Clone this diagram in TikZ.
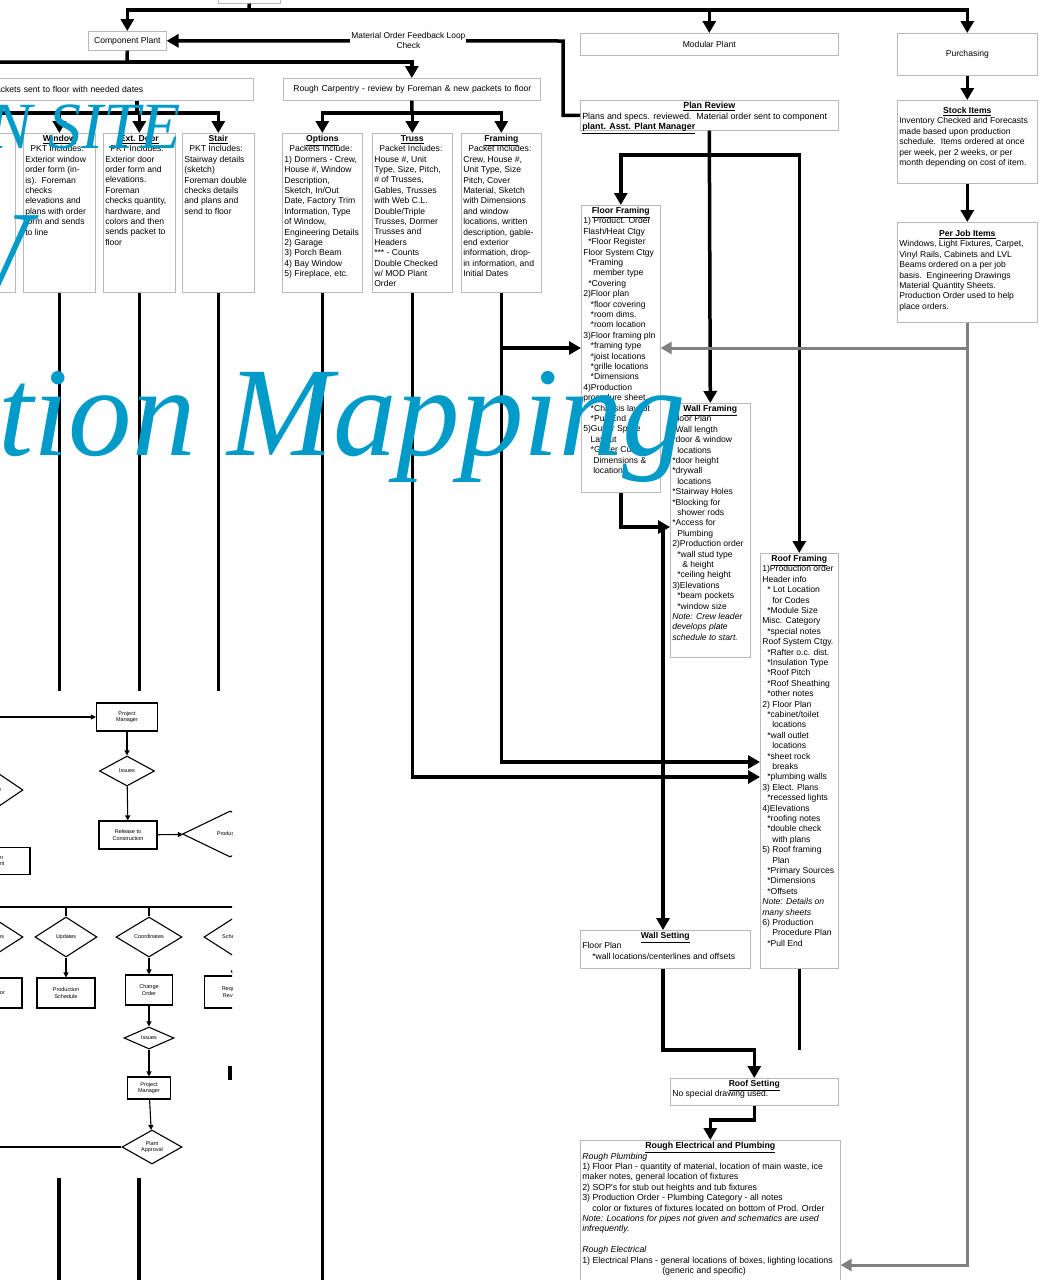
\documentclass[tikz,border=0pt]{standalone}
\usepackage{fontspec}
\newfontfamily\arial{Liberation Sans}
\newfontfamily\tms{Liberation Serif}
\usetikzlibrary{arrows.meta,shapes.geometric}
\definecolor{ttlblue}{RGB}{0,155,200}
\definecolor{lgray}{RGB}{128,128,128}
\newcommand{\hd}[1]{\makebox[\linewidth]{\underline{\textbf{#1}}}\\}
\newcommand{\ind}{\hspace*{5pt}}
\begin{document}
\begin{tikzpicture}[x=1pt,y=-1pt,
  pbox/.style={draw=gray!55,line width=.6pt,fill=white,anchor=north west,inner sep=2pt,font=\arial\fontsize{8.6}{10.4}\selectfont},
  box/.style 2 args={pbox,execute at begin node={\begin{minipage}[t][#2][t]{#1}\raggedright},execute at end node={\end{minipage}}},
  fl/.style={line width=3.5pt,-{Triangle[width=13pt,length=12pt]}},
  ln/.style={line width=3.5pt},
  gl/.style={line width=3pt,draw=lgray,-{Triangle[width=12pt,length=11pt]}},
  fb/.style={draw,line width=1.1pt,fill=white,align=center,inner sep=1pt,font=\arial\fontsize{5.5}{6.6}\selectfont},
  fd/.style={fb,diamond,inner sep=0pt},
  fa/.style={line width=1.1pt,-{Triangle[width=5pt,length=5pt]}},
  fn/.style={line width=1.1pt},
  big/.style={text=ttlblue,anchor=base west,inner sep=0pt}]
\useasboundingbox (0,0) rectangle (1046,1280);
\clip (0,0) rectangle (1046,1280);
\fill[white] (0,0) rectangle (1046,1280);

% top row
\node[pbox,minimum width=62pt,minimum height=16pt] (top) at (218,-13) {};
\node[pbox,minimum width=78pt,minimum height=19pt] (comp) at (88,31) {Component Plant};
\node[pbox,minimum width=258pt,minimum height=22pt] (modular) at (580,33) {Modular Plant};
\node[pbox,minimum width=140pt,minimum height=42pt] (purch) at (897,33) {Purchasing};
\node[pbox,minimum width=265pt,minimum height=22pt,text width=261pt,align=left] (packets) at (-12,78) {Packets sent to floor with needed dates};
\node[pbox,minimum width=257pt,minimum height=22pt,text width=253pt,align=left] (rcarp) at (283,78) {\hspace*{8pt}Rough Carpentry - review by Foreman \& new packets to floor};

% packets
\node[pbox,minimum width=35pt,minimum height=159pt] (lpkt) at (-20,133) {};
\node[box={68pt}{155pt}] (window) at (23,133) {\hd{Window}\ind PKT Includes:\\Exterior window\\order form (in-\\is).\ \ Foreman\\checks\\elevations and\\plans with order\\form and sends\\to line};
\node[box={68pt}{155pt}] (extdoor) at (103,133) {\hd{Ext. Door}\ind PKT Includes:\\Exterior door\\order form and\\elevations.\\Foreman\\checks quantity,\\hardware, and\\colors and then\\sends packet to\\floor};
\node[box={68pt}{155pt}] (stair) at (182,133) {\hd{Stair}\ind PKT Includes:\\Stairway details\\(sketch)\\Foreman double\\checks details\\and plans and\\send to floor};
\node[box={76pt}{155pt}] (options) at (282,133) {\hd{Options}\ind Packets Include:\\1) Dormers - Crew,\\House \#, Window\\Description,\\Sketch, In/Out\\Date, Factory Trim\\Information, Type\\of Window,\\Engineering Details\\2) Garage\\3) Porch Beam\\4) Bay Window\\5) Fireplace, etc.};
\node[box={76pt}{155pt}] (truss) at (372,133) {\hd{Truss}\ind Packet Includes:\\House \#, Unit\\Type, Size, Pitch,\\\# of Trusses,\\Gables, Trusses\\with Web C.L.\\Double/Triple\\Trusses, Dormer\\Trusses and\\Headers\\{}*** - Counts\\Double Checked\\w/ MOD Plant\\Order};
\node[box={76pt}{155pt}] (framing) at (461,133) {\hd{Framing}\ind Packet Includes:\\Crew, House \#,\\Unit Type, Size\\Pitch, Cover\\Material, Sketch\\with Dimensions\\and window\\locations, written\\description, gable-\\end exterior\\information, drop-\\in information, and\\Initial Dates};

% modular plant
\node[box={254pt}{26pt},font=\arial\fontsize{8.9}{10.4}\selectfont] (planrev) at (580,100) {\hd{Plan Review}Plans and specs. reviewed.\ \ Material order sent to component\\\underline{\textbf{plant. Asst. Plant Manager}}};
\node[box={136pt}{69pt},inner ysep=7pt] (stock) at (897,100) {\hd{Stock Items}Inventory Checked and Forecasts\\made based upon production\\schedule.\ \ Items ordered at once\\per week, per 2 weeks, or per\\month depending on cost of item.};
\node[box={136pt}{84pt},inner ysep=8pt] (perjob) at (897,222) {\hd{Per Job Items}Windows, Light Fixtures, Carpet,\\Vinyl Rails, Cabinets and LVL\\Beams ordered on a per job\\basis.\ \ Engineering Drawings\\Material Quantity Sheets.\\Production Order used to help\\place orders.};
\node[box={75pt}{283pt}] (floorfr) at (581,205) {\hd{Floor Framing}1) Product. Order\\Flash/Heat Ctgy\\\ind{}*Floor Register\\Floor System Ctgy\\\ind{}*Framing\\\ind\ind member type\\\ind{}*Covering\\2)Floor plan\\\ind\ *floor covering\\\ind\ *room dims.\\\ind\ *room location\\3)Floor framing pln\\\ind\ *framing type\\\ind\ *joist locations\\\ind\ *grille locations\\\ind\ *Dimensions\\4)Production\\procedure sheet\\\ind\ *Chassis layout\\\ind\ *Pull End\\5)Gutter Splice\\\ind\ Layout\\\ind\ *Gutter Cut\\\ind\ind Dimensions \&\\\ind\ind location};
\node[box={76pt}{250pt}] (wallfr) at (670,403) {\hd{Wall Framing}Floor Plan\\{}*Wall length\\{}*door \& window\\\ind locations\\{}*door height\\{}*drywall\\\ind locations\\{}*Stairway Holes\\{}*Blocking for\\\ind shower rods\\{}*Access for\\\ind Plumbing\\2)Production order\\\ind{}*wall stud type\\\ind\ind \& height\\\ind{}*ceiling height\\3)Elevations\\\ind{}*beam pockets\\\ind{}*window size\\{\itshape Note: Crew leader\\develops plate\\schedule to start.}};
\node[box={74pt}{411pt}] (rooffr) at (760,553) {\hd{Roof Framing}1)Production order\\Header info\\\ind{}* Lot Location\\\ind\ind for Codes\\\ind{}*Module Size\\Misc. Category\\\ind{}*special notes\\Roof System Ctgy.\\\ind{}*Rafter o.c. dist.\\\ind{}*Insulation Type\\\ind{}*Roof Pitch\\\ind{}*Roof Sheathing\\\ind{}*other notes\\2) Floor Plan\\\ind{}*cabinet/toilet\\\ind\ind locations\\\ind{}*wall outlet\\\ind\ind locations\\\ind{}*sheet rock\\\ind\ind breaks\\\ind{}*plumbing walls\\3) Elect. Plans\\\ind{}*recessed lights\\4)Elevations\\\ind{}*roofing notes\\\ind{}*double check\\\ind\ind with plans\\5) Roof framing\\\ind\ind Plan\\\ind{}*Primary Sources\\\ind{}*Dimensions\\\ind{}*Offsets\\{\itshape Note: Details on\\many sheets}\\6) Production\\\ind\ind Procedure Plan\\\ind{}*Pull End};
\node[box={166pt}{34pt}] (wallset) at (580,930) {\hd{Wall Setting}Floor Plan\\\ind\ind{}*wall locations/centerlines and offsets};
\node[box={164pt}{23pt}] (roofset) at (670,1078) {\hd{Roof Setting}No special drawing used.};
\node[box={256pt}{146pt},font=\arial\fontsize{8.8}{10.4}\selectfont] (rough) at (580,1140) {\hd{Rough Electrical and Plumbing}{\itshape Rough Plumbing}\\1) Floor Plan - quantity of material, location of main waste, ice\\maker notes, general location of fixtures\\2) SOP's for stub out heights and tub fixtures\\3) Production Order - Plumbing Category - all notes\\\ind\ind color or fixtures of fixtures located on bottom of Prod. Order\\{\itshape Note: Locations for pipes not given and schematics are used\\infrequently.}\\[10.4pt]{\itshape Rough Electrical}\\1) Electrical Plans - general locations of boxes, lighting locations\\\hspace*{80pt}(generic and specific)};

% connectors
\coordinate (tj) at (249,10);
\draw[ln] (top.south) -- (tj);
\draw[fl] (tj) -| (comp.north);
\draw[fl] (tj) -| (purch.north);
\draw[fl] (modular.north |- tj) -- (modular.north);
\draw[fl] (planrev.west) -| (563,41) -- node[fill=white,inner sep=1pt,align=center,font=\arial\fontsize{8.4}{10}\selectfont,pos=.39]{Material Order Feedback Loop\\Check} (comp.east);
\coordinate (cj) at (127,62);
\coordinate (cl) at (-5,62);
\draw[ln] (comp.south) -- (cj) -- (cl);
\draw[fl] (cj) -| (rcarp.north);
\coordinate (pj) at (137,113);
\coordinate (pl) at (-5,113);
\draw[ln] (packets.south -| pj) -- (pj) -- (pl);
\foreach \b in {window,extdoor,stair} \draw[fl] (pj) -| (\b.north);
\coordinate (rj) at (412,113);
\draw[ln] (rcarp.south) -- (rj);
\foreach \b in {options,truss,framing} \draw[fl] (rj) -| (\b.north);
\foreach \b in {window,extdoor,stair} \draw[ln] (\b.south) -- ++(0,398);
\foreach \x in {59,139} \draw[ln] (\x,1178) -- (\x,1290);
\draw[ln] (options.south) -- ++(0,1000);
\draw[fl] (truss.south) |- (rooffr.west |- 0,777);
\draw[fl] (framing.south) |- (rooffr.west |- 0,762);
\draw[fl] (framing.south |- 0,348) -- (floorfr.west |- 0,348);
\coordinate (pr) at (709,155);
\draw[fl] (planrev.south) -- (wallfr.north);
\draw[fl] (pr) -| (floorfr.north);
\draw[fl] (pr) -| (rooffr.north);
\draw[fl] (purch.south) -- (stock.north);
\draw[fl] (stock.south) -- (perjob.north);
\draw[fl] (floorfr.south) |- (wallfr.west |- 0,527);
\draw[fl] (663,527) -- (wallset.north -| 663,0);
\draw[fl] (wallset.south -| 663,0) |- (roofset.north |- 0,1050) -- (roofset.north);
\draw[ln] (rooffr.south) -- (rooffr.south |- 0,1050);
\draw[fl] (roofset.south) |- (rough.north |- 0,1120) -- (rough.north);
\draw[gl] (perjob.south) |- (rough.east |- 0,1265);
\draw[gl] (perjob.south |- 0,348) -- (floorfr.east |- 0,348);

% pasted flow chart
\begin{scope}
\clip (0,690) rectangle (232,1176);
\node[fb,minimum width=61pt,minimum height=28pt] (pm) at (127,717) {Project\\Manager};
\node[fd,minimum width=55pt,minimum height=30pt] (iss) at (127,771) {Issues};
\node[fb,minimum width=58pt,minimum height=28pt] (rel) at (128,835) {Release to\\Construction};
\node[fd,minimum width=95pt,minimum height=46pt] (prod) at (230,834) {Production};
\node[fd,minimum width=56pt,minimum height=38pt] (ldia) at (-5,790) {Price};
\node[fb,minimum width=80pt,minimum height=27pt] (lbox) at (-10,861) {Production\\Department};
\coordinate (pml) at (-5,717);
\draw[fa] (pml) -- (pm.west);
\draw[fa] (pm) -- (iss);
\draw[fa] (iss) -- (rel);
\draw[fa] (rel) -- (prod);
\coordinate (hl) at (-5,907);
\coordinate (hr) at (240,907);
\draw[fn] (hl) -- (hr);
\node[fd,minimum width=62pt,minimum height=40pt] (d1) at (-8,937) {Estimates};
\node[fd,minimum width=62pt,minimum height=40pt] (d2) at (66,937) {Updates};
\node[fd,minimum width=66pt,minimum height=40pt] (d3) at (149,937) {Coordinates};
\node[fd,minimum width=62pt,minimum height=40pt] (d4) at (235,937) {Schedules};
\node[fb,minimum width=60pt,minimum height=30pt] (b1) at (-8,993) {Contractor};
\node[fb,minimum width=58pt,minimum height=30pt] (b2) at (66,993) {Production\\Schedule};
\node[fb,minimum width=47pt,minimum height=30pt] (b3) at (149,990) {Change\\Order};
\node[fb,minimum width=55pt,minimum height=32pt] (b4) at (232,992) {Request\\Review};
\foreach \i in {1,...,4} {
  \draw[fn] (d\i.north |- hl) -- (d\i.north);
  \draw[fa] (d\i) -- (b\i);
}
\node[fd,minimum width=50pt,minimum height=22pt] (iss2) at (149,1038) {Issues};
\node[fb,minimum width=43pt,minimum height=22pt] (pm2) at (149,1088) {Project\\Manager};
\node[fd,minimum width=60pt,minimum height=34pt] (appr) at (152,1147) {Plant\\Approval};
\draw[fa] (b3) -- (iss2);
\draw[fa] (iss2) -- (pm2);
\draw[fa] (pm2) -- (appr);
\coordinate (al) at (-5,1147);
\draw[fn] (al) -- (appr.west);
\draw[line width=4pt] (230,1066) -- (230,1080);
\end{scope}

% overlay title
\node[big,font=\tms\itshape\fontsize{66}{66}\selectfont] (site) at (-12,148) {N SITE};
\node[big,font=\tms\itshape\fontsize{125}{125}\selectfont,anchor=base east] (flw) at (30,297) {W};
\node[big,font=\tms\itshape\fontsize{127}{127}\selectfont] (ttl) at (-2,455) {tion Mapping};
\end{tikzpicture}
\end{document}
